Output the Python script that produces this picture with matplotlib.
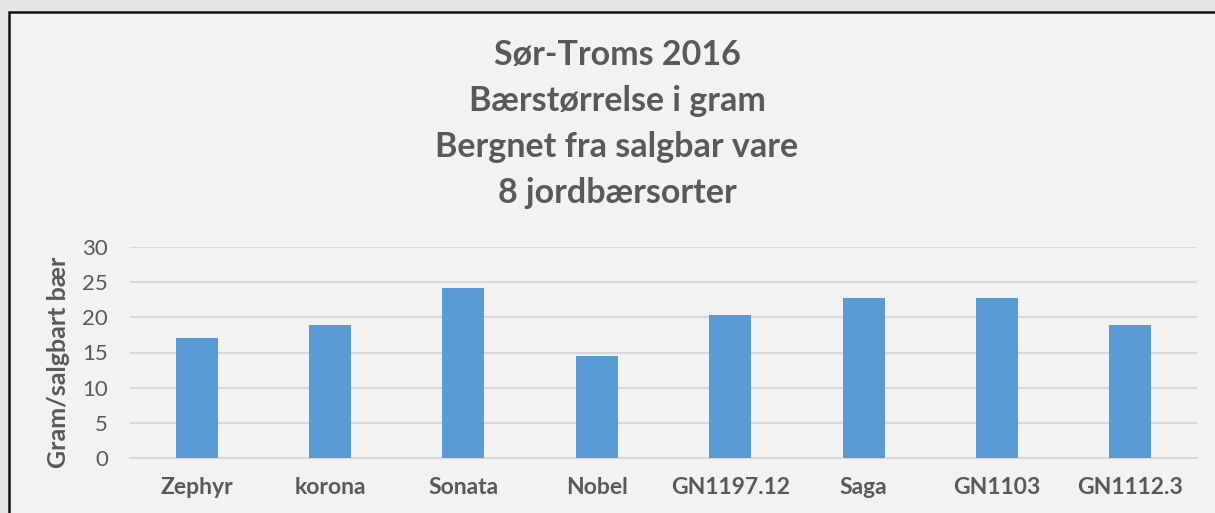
import matplotlib
matplotlib.use("Agg")
import matplotlib.pyplot as plt
from matplotlib.patches import Rectangle

categories = ["Zephyr", "korona", "Sonata", "Nobel", "GN1197.12", "Saga", "GN1103", "GN1112.3"]
values = [17.0, 18.9, 24.2, 14.5, 20.4, 22.7, 22.7, 18.9]
yticks = [0, 5, 10, 15, 20, 25, 30]
title_lines = ["Sør-Troms 2016", "Bærstørrelse i gram", "Bergnet fra salgbar vare", "8 jordbærsorter"]
ylabel = "Gram/salgbart bær"

W, H = 1215, 513
plt.rcParams['font.family'] = ['Lato', 'DejaVu Sans']
fig = plt.figure(figsize=(W / 100, H / 100), dpi=100, facecolor="#E4E4E4")

# chart area with border
fig.patches.append(Rectangle((9 / W, 0 - 0.05), 1.1, 1 - 12 / H + 0.05, transform=fig.transFigure,
                             facecolor="#F2F2F2", edgecolor="#111111", linewidth=1.8, zorder=-5))

ax = fig.add_axes([130 / W, 1 - 458 / H, (1197 - 130) / W, (458 - 247) / H])
ax.set_facecolor("none")
x = range(len(categories))
ax.bar(x, values, width=0.315, color="#5B9BD5", zorder=3)
ax.set_xlim(-0.5, len(categories) - 0.5)
ax.set_ylim(0, 30)
ax.set_yticks(yticks)
ax.set_yticklabels([str(t) for t in yticks], fontsize=16, color="#595959")
ax.set_xticks(list(x))
ax.set_xticklabels(categories, fontsize=16.5, fontweight="bold", color="#595959")
ax.tick_params(axis="both", length=0)
ax.tick_params(axis="x", pad=14)
ax.tick_params(axis="y", pad=16)
ax.grid(axis="y", color="#D9D9D9", linewidth=1.5, zorder=0)
for s in ["top", "right", "left"]:
    ax.spines[s].set_visible(False)
ax.spines["bottom"].set_color("#D9D9D9")
ax.spines["bottom"].set_linewidth(1.5)
ax.set_ylabel(ylabel, fontsize=18, fontweight="bold", color="#595959", labelpad=10)
ax.yaxis.set_label_coords(-60 / (1197 - 130), 0.455)

ys = [55, 101, 147, 193]
for line, yy in zip(title_lines, ys):
    fig.text(617 / W, 1 - yy / H, line, ha="center", va="center", fontsize=24.5,
             fontweight="bold", color="#595959")

fig.savefig("out.png", dpi=100, facecolor=fig.get_facecolor())
